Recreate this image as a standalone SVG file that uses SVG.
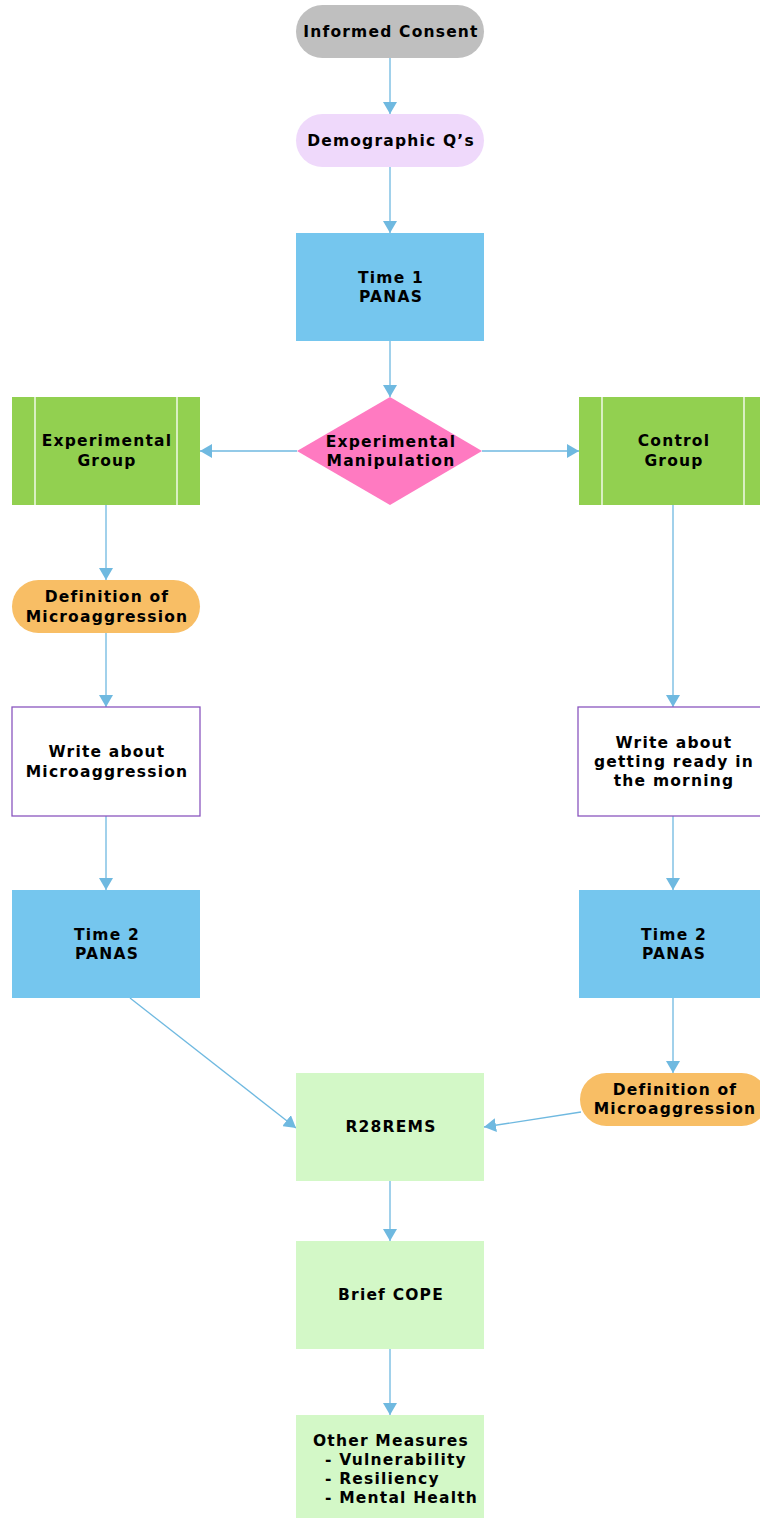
<svg xmlns="http://www.w3.org/2000/svg" width="760" height="1518" viewBox="0 0 760 1518">
<defs>
<marker id="ah" markerWidth="12" markerHeight="14" refX="12" refY="7" orient="auto" markerUnits="userSpaceOnUse" viewBox="0 0 12 14">
<path d="M0,0 L12,7 L0,14 Z" fill="#6fb9e0"/>
</marker>
<style>
text{font-family:"DejaVu Sans","Open Sans",sans-serif;font-weight:bold;font-size:15.5px;letter-spacing:1.2px;fill:#000;text-anchor:middle}
.c{stroke:#6fb9e0;stroke-width:1.3;fill:none;marker-end:url(#ah)}
.blue{fill:#75c6ee}
.lg{fill:#d3f8c7}
.grn{fill:#92d050}
.org{fill:#f8be65}
.wr{fill:#fff;stroke:#8a56bf;stroke-width:1.3}
.sep{stroke:#fff;stroke-width:1.3}
</style>
</defs>
<rect width="760" height="1518" fill="#fff"/>
<g id="connectors">
<path class="c" d="M390,58 V114"/>
<path class="c" d="M390,167 V233"/>
<path class="c" d="M390,341 V397"/>
<path class="c" d="M297,451 H200"/>
<path class="c" d="M482,451 H579"/>
<path class="c" d="M106,505 V580"/>
<path class="c" d="M106,633 V707"/>
<path class="c" d="M106,816 V890"/>
<path class="c" d="M673,505 V707"/>
<path class="c" d="M673,816 V890"/>
<path class="c" d="M673,998 V1073"/>
<path class="c" d="M130,998 L296,1128"/>
<path class="c" d="M581,1112 L484,1127"/>
<path class="c" d="M390,1181 V1241"/>
<path class="c" d="M390,1349 V1415"/>
</g>
<g id="informed-consent">
<rect x="296" y="5" width="188" height="53" rx="26.5" fill="#bfbfbf"/>
<text x="391" y="37">Informed Consent</text>
</g>
<g id="demographic">
<rect x="296" y="114" width="188" height="53" rx="26.5" fill="#efd9fb"/>
<text x="391" y="146">Demographic Q’s</text>
</g>
<g id="time1">
<rect class="blue" x="296" y="233" width="188" height="108"/>
<text x="391" y="283">Time 1</text>
<text x="391" y="302">PANAS</text>
</g>
<g id="manipulation">
<path d="M390,397 L482,451 L390,505 L297,451 Z" fill="#ff7ac1"/>
<text x="391" y="447">Experimental</text>
<text x="391" y="466">Manipulation</text>
</g>
<g id="exp-group">
<rect class="grn" x="12" y="397" width="188" height="108"/>
<line class="sep" x1="35" y1="397" x2="35" y2="505"/>
<line class="sep" x1="177" y1="397" x2="177" y2="505"/>
<text x="107" y="446">Experimental</text>
<text x="107" y="466">Group</text>
</g>
<g id="ctrl-group">
<rect class="grn" x="579" y="397" width="188" height="108"/>
<line class="sep" x1="602" y1="397" x2="602" y2="505"/>
<line class="sep" x1="744" y1="397" x2="744" y2="505"/>
<text x="674" y="446">Control</text>
<text x="674" y="466">Group</text>
</g>
<g id="def-left">
<rect class="org" x="12" y="580" width="188" height="53" rx="26.5"/>
<text x="107" y="602">Definition of</text>
<text x="107" y="622">Microaggression</text>
</g>
<g id="write-left">
<rect class="wr" x="12" y="707" width="188" height="109"/>
<text x="107" y="757">Write about</text>
<text x="107" y="777">Microaggression</text>
</g>
<g id="write-right">
<rect class="wr" x="578" y="707" width="188" height="109"/>
<text x="674" y="748">Write about</text>
<text x="674" y="767">getting ready in</text>
<text x="674" y="786">the morning</text>
</g>
<g id="time2-left">
<rect class="blue" x="12" y="890" width="188" height="108"/>
<text x="107" y="940">Time 2</text>
<text x="107" y="959">PANAS</text>
</g>
<g id="time2-right">
<rect class="blue" x="579" y="890" width="188" height="108"/>
<text x="674" y="940">Time 2</text>
<text x="674" y="959">PANAS</text>
</g>
<g id="def-right">
<rect class="org" x="580" y="1073" width="188" height="53" rx="26.5"/>
<text x="675" y="1095">Definition of</text>
<text x="675" y="1114">Microaggression</text>
</g>
<g id="r28rems">
<rect class="lg" x="296" y="1073" width="188" height="108"/>
<text x="391" y="1132">R28REMS</text>
</g>
<g id="brief-cope">
<rect class="lg" x="296" y="1241" width="188" height="108"/>
<text x="391" y="1300">Brief COPE</text>
</g>
<g id="other-measures">
<rect class="lg" x="296" y="1415" width="188" height="103"/>
<text x="391" y="1446">Other Measures</text>
<text x="325" y="1465" style="text-anchor:start">- Vulnerability</text>
<text x="325" y="1484" style="text-anchor:start">- Resiliency</text>
<text x="325" y="1503" style="text-anchor:start">- Mental Health</text>
</g>
</svg>
